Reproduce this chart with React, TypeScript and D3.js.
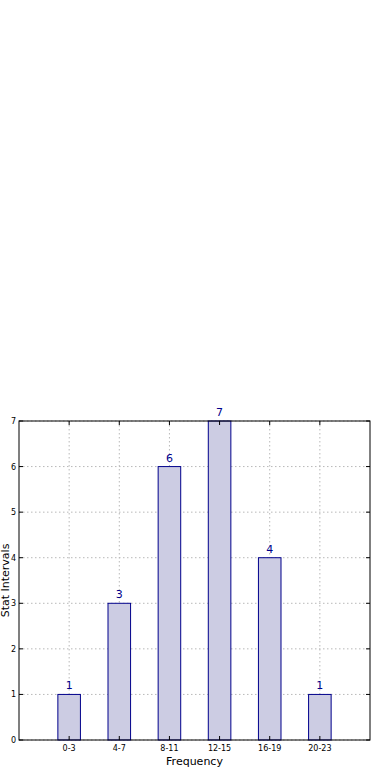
import React from "react";
import * as d3 from "d3";

const categories = ["0-3", "4-7", "8-11", "12-15", "16-19", "20-23"];
const values = [1, 3, 6, 7, 4, 1];
const yTicks = [0, 1, 2, 3, 4, 5, 6, 7];

export default function App() {
  const W = 390, H = 780;
  const left = 19, right = 370, top = 421, bottom = 740;
  const x = d3.scaleLinear().domain([-1, 6]).range([left, right]);
  const y = d3.scaleLinear().domain([0, 7]).range([bottom, top]);
  const barW = 0.45;
  const font = "DejaVu Sans, sans-serif";
  return (
    <svg width={W} height={H} style={{ position: "absolute", left: 0, top: 0, background: "#fff" }} fontFamily={font}>
      {categories.map((c, i) => (
        <line key={"gx" + i} x1={x(i)} x2={x(i)} y1={top} y2={bottom} stroke="#b8b8b8" strokeWidth={1} strokeDasharray="1.5,2.5" />
      ))}
      {yTicks.map((t) => (
        <line key={"gy" + t} x1={left} x2={right} y1={y(t)} y2={y(t)} stroke="#b8b8b8" strokeWidth={1} strokeDasharray="1.5,2.5" />
      ))}
      {values.map((v, i) => (
        <rect key={"b" + i} x={x(i - barW / 2)} y={y(v)} width={x(barW) - x(0)} height={y(0) - y(v)} fill="#ccccE3" stroke="#00008b" strokeWidth={1} />
      ))}
      {values.map((v, i) => (
        <text key={"l" + i} x={x(i)} y={y(v) - 5} textAnchor="middle" fontSize={11} fill="#00008b">{v}</text>
      ))}
      {yTicks.map((t) => (
        <g key={"ty" + t}>
          <line x1={left} x2={left + 4} y1={y(t)} y2={y(t)} stroke="#000" />
          <line x1={right} x2={right - 4} y1={y(t)} y2={y(t)} stroke="#000" />
          <text x={left - 3} y={y(t) + 3} textAnchor="end" fontSize={8} fill="#000">{t}</text>
        </g>
      ))}
      {categories.map((c, i) => (
        <g key={"tx" + i}>
          <line x1={x(i)} x2={x(i)} y1={bottom} y2={bottom - 4} stroke="#000" />
          <line x1={x(i)} x2={x(i)} y1={top} y2={top + 4} stroke="#000" />
          <text x={x(i)} y={bottom + 11} textAnchor="middle" fontSize={8} fill="#000">{c}</text>
        </g>
      ))}
      <rect x={left} y={top} width={right - left} height={bottom - top} fill="none" stroke="#000" strokeWidth={1} />
      <text x={(left + right) / 2} y={765} textAnchor="middle" fontSize={11} fill="#000">Frequency</text>
      <text transform={`translate(9,${(top + bottom) / 2}) rotate(-90)`} textAnchor="middle" fontSize={11} fill="#000">Stat Intervals</text>
    </svg>
  );
}
